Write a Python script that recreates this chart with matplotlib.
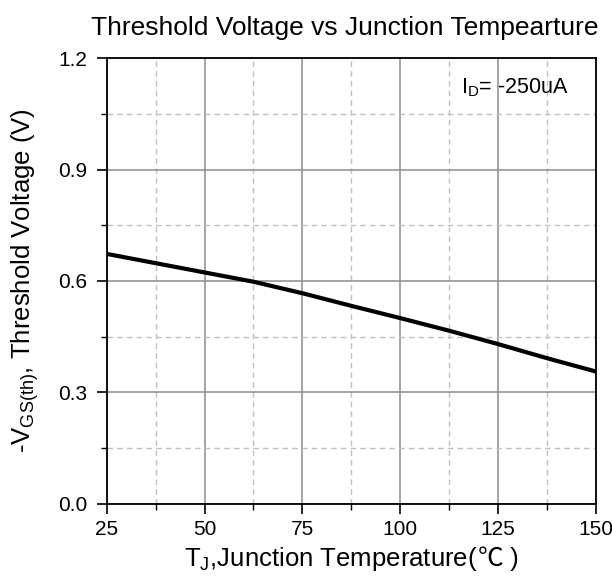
import numpy as np
import matplotlib
matplotlib.use("Agg")
import matplotlib.pyplot as plt
from matplotlib.ticker import MultipleLocator

# values
temp = [25, 37.5, 50, 62.5, 75, 87.5, 100, 112.5, 125, 137.5, 150]
vth = [0.673, 0.648, 0.623, 0.598, 0.567, 0.533, 0.500, 0.466, 0.430, 0.392, 0.356]

x_ticks = [25, 50, 75, 100, 125, 150]
y_ticks = [0.0, 0.3, 0.6, 0.9, 1.2]

plt.rcParams["font.family"] = ["Liberation Sans", "Noto Sans CJK SC", "DejaVu Sans"]
plt.rcParams["mathtext.fontset"] = "custom"
plt.rcParams["mathtext.rm"] = "Liberation Sans"
plt.rcParams["mathtext.it"] = "Liberation Sans"

fig = plt.figure(figsize=(6.12, 5.79), dpi=100)
ax = fig.add_axes([0.1743, 0.1299, 0.7997, 0.7696])

ax.plot(temp, vth, color="black", lw=3, solid_capstyle="butt", zorder=3)

ax.set_xlim(25, 150)
ax.set_ylim(0, 1.2)
ax.set_xticks(x_ticks)
ax.set_yticks(y_ticks)
ax.set_yticklabels([f"{v:.1f}" for v in y_ticks])
ax.xaxis.set_minor_locator(MultipleLocator(12.5))
ax.yaxis.set_minor_locator(MultipleLocator(0.15))

ax.grid(which="major", color="#8c8c8c", lw=1.1, ls="-")
ax.grid(which="minor", color="#c0c0c0", lw=1.0, ls=(0, (4, 3)))

ax.tick_params(which="major", direction="out", length=7, width=1.2, labelsize=15)
ax.tick_params(axis="y", which="major", pad=7)
ax.tick_params(axis="x", which="major", pad=5)
ax.tick_params(which="minor", direction="out", length=4, width=1.0)
for s in ax.spines.values():
    s.set_linewidth(1.3)

ax.set_ylabel(r"-V$_\mathrm{GS(th)}$, Threshold Voltage (V)", fontsize=18.5, labelpad=12)
ax.set_title("Threshold Voltage vs Junction Tempearture", fontsize=19, pad=17, x=0.486)

ax.text(115.5, 1.12, r"I$_\mathrm{D}$= -250uA", fontsize=15.5, va="center")

# x label built from pieces so the ℃ sign can come from a CJK font
pieces = [
    (r"T$_\mathrm{J}$,Junction Temperature(", {}),
    ("℃", {"family": ["Noto Sans CJK SC"]}),
    (" )", {}),
]
y_base = 1 - 566 / 579
texts = [fig.text(0, y_base, s, fontsize=18.5, va="baseline", ha="left", **kw)
         for s, kw in pieces]
fig.canvas.draw()
r = fig.canvas.get_renderer()
widths = [t.get_window_extent(r).width for t in texts]
x0 = ax.bbox.x0 + ax.bbox.width / 2 - sum(widths) / 2
for t, w in zip(texts, widths):
    t.set_x(x0 / fig.bbox.width)
    x0 += w

fig.savefig("out.png", dpi=100)
